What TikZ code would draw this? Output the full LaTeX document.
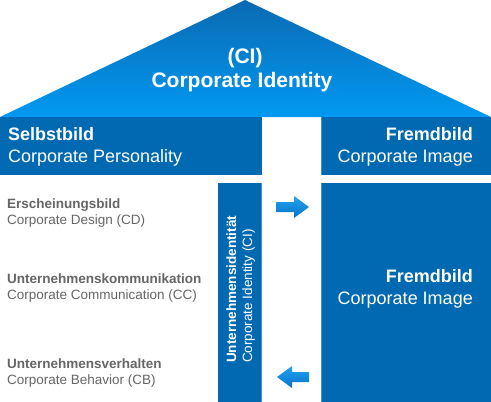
\documentclass[tikz,border=0pt]{standalone}
\usepackage{fontspec}
\setmainfont{Liberation Sans}
\begin{document}
\begin{tikzpicture}[x=1pt,y=-1pt,
  boxblue/.style={fill=cBox,draw=none},
  edge/.style={draw=cEdge,line width=1pt},
  wtxt/.style={text=white,inner sep=0pt,font=\fontsize{18}{18}\selectfont},
  wbold/.style={wtxt,font=\fontsize{18}{18}\selectfont\bfseries},
  gtxt/.style={text=cGrey,inner sep=0pt,anchor=base west,font=\fontsize{13.5}{13.5}\selectfont},
  gbold/.style={gtxt,font=\fontsize{13.5}{13.5}\selectfont\bfseries},
  arrowshape/.style={top color=cArrTop,bottom color=cArrBot,draw=none}]
\definecolor{cBox}{HTML}{0069B1}
\definecolor{cEdge}{HTML}{3E93CF}
\definecolor{cRoofTop}{HTML}{0A6AB2}
\definecolor{cRoofBot}{HTML}{0299F2}
\definecolor{cGrey}{HTML}{666666}
\definecolor{cArrTop}{HTML}{22A4F4}
\definecolor{cArrBot}{HTML}{0872C4}
\useasboundingbox (0,0) rectangle (491,402);
\fill[white] (0,0) rectangle (491,402);
% roof
\shade[top color=cRoofTop,bottom color=cRoofBot] (0,117) -- (245,0) -- (491,117) -- cycle;
\node[wbold,font=\fontsize{21}{21}\selectfont\bfseries,anchor=base] (ci) at (245,63) {(CI)};
\node[wbold,font=\fontsize{21}{21}\selectfont\bfseries,anchor=base] (cit) at (242,87) {Corporate Identity};
% top boxes
\fill[boxblue] (0,117) rectangle (262,175);
\fill[boxblue] (321,117) rectangle (491,175);
\draw[edge] (321.5,117) -- (321.5,175);
\node[wbold,anchor=base west] (sb) at (8,140) {Selbstbild};
\node[wtxt,anchor=base west] (cp) at (8,162) {Corporate Personality};
\node[wbold,anchor=base east] (fb1) at (473,140) {Fremdbild};
\node[wtxt,anchor=base east] (ci1) at (473,162) {Corporate Image};
% vertical bar
\fill[boxblue] (218,183) rectangle (262,402);
\draw[edge] (261.5,183) -- (261.5,402);
\node[wbold,font=\fontsize{13.5}{13.5}\selectfont\bfseries,rotate=90,anchor=base west] (ui) at (236,363) {Unternehmensidentität};
\node[wtxt,font=\fontsize{13.5}{13.5}\selectfont,rotate=90,anchor=base west] (cic) at (252,363) {Corporate Identity (CI)};
% right big box
\fill[boxblue] (321,183) rectangle (491,402);
\draw[edge] (321.5,183) -- (321.5,402);
\node[wbold,anchor=base east] (fb2) at (473,282) {Fremdbild};
\node[wtxt,anchor=base east] (ci2) at (473,304) {Corporate Image};
% left texts
\node[gbold] (eb) at (7,208) {Erscheinungsbild};
\node[gtxt] (cd) at (7,224) {Corporate Design (CD)};
\node[gbold] (uk) at (7,283) {Unternehmenskommunikation};
\node[gtxt] (cc) at (7,299) {Corporate Communication (CC)};
\node[gbold] (uv) at (7,368) {Unternehmensverhalten};
\node[gtxt] (cb) at (7,384) {Corporate Behavior (CB)};
% arrows
\shade[arrowshape] (276,202) -- (294,202) -- (294,196) -- (309,207) -- (294,218) -- (294,212) -- (276,212) -- cycle;
\shade[arrowshape] (309,372) -- (292,372) -- (292,366) -- (277,377) -- (292,388) -- (292,382) -- (309,382) -- cycle;
\end{tikzpicture}
\end{document}
